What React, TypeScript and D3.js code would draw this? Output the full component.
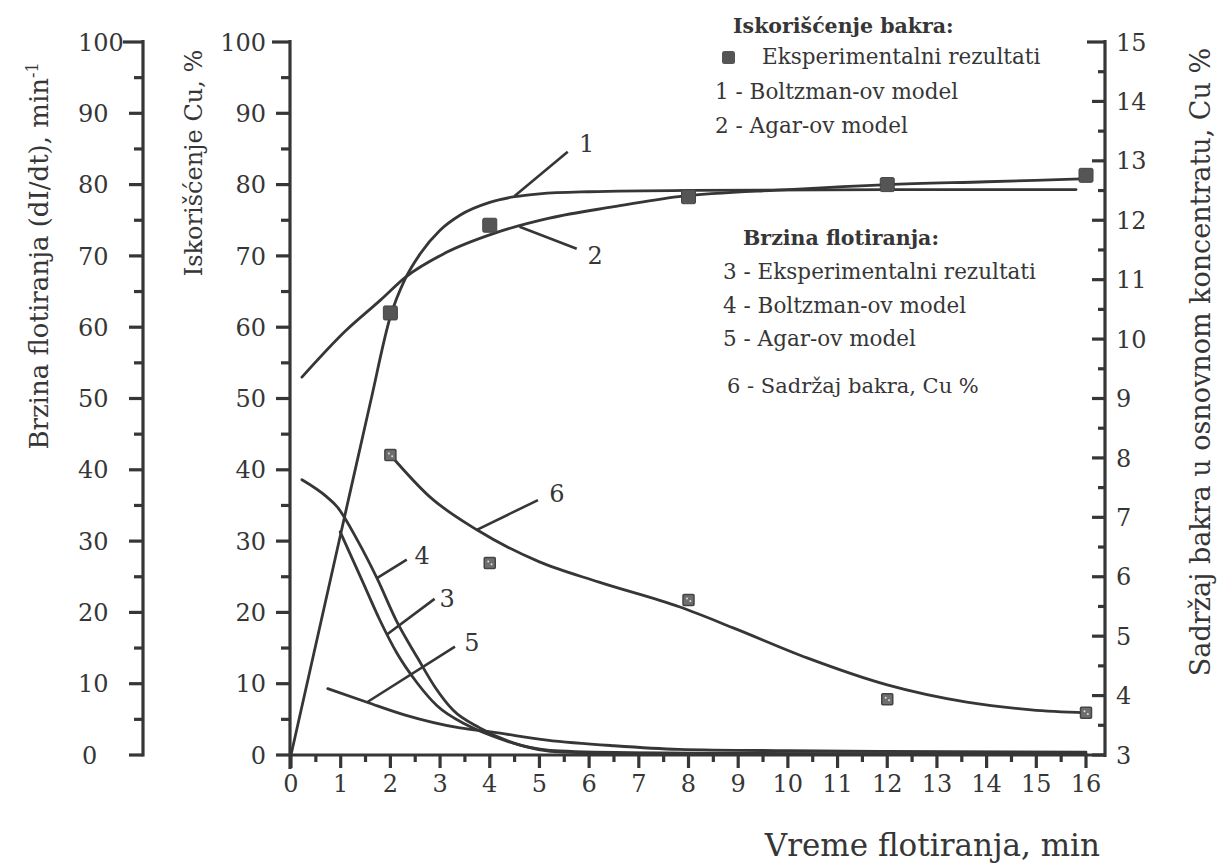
import React from 'react';
import * as d3 from 'd3';

// ---- data ----
const timeTicks = d3.range(0, 17);
const timeMinor = d3.range(0.5, 16, 1);
const leftTicks = [0, 10, 20, 30, 40, 50, 60, 70, 80, 90, 100];
const leftMinor = [5, 15, 25, 35, 45, 55, 65, 75, 85, 95];
const rightTicks = [3, 4, 5, 6, 7, 8, 9, 10, 11, 12, 13, 14, 15];
const rightMinor = [3.5, 4.5, 5.5, 6.5, 7.5, 8.5, 9.5, 10.5, 11.5, 12.5, 13.5, 14.5];

// Iskorišćenje bakra (left scale, %)
const recoveryExpT = [2, 4, 8, 12, 16];
const recoveryExpV = [62, 74.3, 78.3, 80, 81.3];
// 1 - Boltzman-ov model
const boltzmannRecT = [0, 1, 1.6, 2, 2.3, 2.6, 3, 3.4, 4, 4.5, 5, 6, 8, 12, 15.8];
const boltzmannRecV = [0, 31, 49.5, 61.5, 66.8, 70.3, 73.6, 75.7, 77.5, 78.3, 78.7, 79.0, 79.2, 79.3, 79.3];
// 2 - Agar-ov model
const agarRecT = [0.22, 1.1, 1.8, 2.3, 3.1, 4.1, 5.2, 6.5, 7.8, 10, 12, 14, 15.9];
const agarRecV = [53, 59.5, 63.8, 67, 70.4, 73.2, 75.3, 76.9, 78.3, 79.3, 80, 80.4, 80.8];

// Brzina flotiranja (left-most scale)
// 3 - Eksperimentalni rezultati
const rateExpT = [0.99, 1.43, 1.79, 2.13, 2.54, 2.94, 3.54, 4.0, 4.61, 5.41, 7, 10, 16];
const rateExpV = [31.3, 24.5, 18.9, 14.3, 10.1, 6.9, 4.2, 2.8, 1.4, 0.56, 0.3, 0.2, 0.15];
// 4 - Boltzman-ov model
const boltzmannRateT = [0.22, 0.72, 0.93, 1.33, 1.73, 2.13, 2.54, 2.9, 3.26, 3.8, 4.47, 5.47, 7, 10, 16];
const boltzmannRateV = [38.6, 36.2, 34.8, 30.2, 24.8, 18.7, 13.7, 9.5, 6.3, 3.8, 1.7, 0.4, 0.25, 0.2, 0.15];
// 5 - Agar-ov model
const agarRateT = [0.74, 1.53, 2.3, 3.4, 4.06, 5.15, 6.5, 7.8, 10, 12, 16];
const agarRateV = [9.3, 7.4, 5.6, 3.8, 3.2, 2.1, 1.3, 0.8, 0.6, 0.5, 0.4];

// 6 - Sadržaj bakra, Cu % (right scale)
const copperT = [2, 2.8, 3.74, 5, 6.2, 7.83, 8.9, 10.4, 12, 13.6, 14.9, 16];
const copperV = [8.05, 7.34, 6.79, 6.25, 5.91, 5.49, 5.14, 4.63, 4.18, 3.89, 3.76, 3.71];
const copperExpT = [2, 4, 8, 12, 16];
const copperExpV = [8.05, 6.23, 5.61, 3.94, 3.71];

// curve number annotations (leader lines)
const annLabels = ['1', '2', '3', '4', '5', '6'];
const annScale = ['L', 'L', 'L', 'L', 'L', 'R'];
const annFrom = [[4.5, 78.4], [4.6, 74.1], [1.93, 16.9], [1.73, 24.8], [1.53, 7.4], [3.74, 6.79]];
const annTo = [[5.57, 84.6], [5.75, 71.0], [2.89, 21.9], [2.33, 27.4], [3.3, 15.2], [4.97, 7.29]];
const annText = [[5.95, 85.8], [6.12, 70.1], [3.14, 22.0], [2.64, 28.0], [3.64, 15.8], [5.35, 7.41]];

const FONT = "'DejaVu Serif', 'Liberation Serif', serif";
const INK = '#363636';

export default function App() {
  const x = d3.scaleLinear().domain([0, 16]).range([291, 1086]);
  const yL = d3.scaleLinear().domain([0, 100]).range([755, 42]);
  const yR = d3.scaleLinear().domain([3, 15]).range([755, 42]);

  const lineL = d3.line<[number, number]>().x(d => x(d[0])).y(d => yL(d[1])).curve(d3.curveMonotoneX);
  const lineR = d3.line<[number, number]>().x(d => x(d[0])).y(d => yR(d[1])).curve(d3.curveMonotoneX);
  const zip = (a: number[], b: number[]) => a.map((t, i) => [t, b[i]] as [number, number]);

  const axisLeftX = 143;
  const axisMidX = 290;
  const axisRightX = 1105;
  const xAxisY = 755;

  const curvesL = [
    zip(boltzmannRecT, boltzmannRecV),
    zip(agarRecT, agarRecV),
    zip(rateExpT, rateExpV),
    zip(boltzmannRateT, boltzmannRateV),
    zip(agarRateT, agarRateV),
  ];

  return (
    <svg width={1224} height={866} style={{ position: 'absolute', left: 0, top: 0, background: '#fff' }}
      fontFamily={FONT}>
      <rect x={0} y={0} width={1224} height={866} fill="#fff" />
      {/* left-most axis (Brzina flotiranja) */}
      <g stroke={INK} strokeWidth={3.2} fill="none">
        <line x1={axisLeftX} x2={axisLeftX} y1={yL(100) - 2} y2={yL(0) + 1.5} />
        {leftTicks.map(v => (
          <line key={'lt' + v} x1={v === 100 ? axisLeftX - 20 : axisLeftX - 14} x2={axisLeftX} y1={yL(v)} y2={yL(v)} />
        ))}
        {leftMinor.map(v => (
          <line key={'lm' + v} x1={axisLeftX - 9} x2={axisLeftX} y1={yL(v)} y2={yL(v)} />
        ))}
      </g>
      <g fill={INK} fontSize={24}>
        {leftTicks.map(v => (
          <text key={'ll' + v} x={v === 0 ? 82 : 78} y={yL(v)} dy="0.36em">{v}</text>
        ))}
      </g>
      <text transform={`translate(48,256) rotate(-90)`} textAnchor="middle" fontSize={26} fill={INK}>
        Brzina flotiranja (dI/dt), min<tspan dy={-10} fontSize={16}>-1</tspan>
      </text>

      {/* main left axis (Iskorišćenje) */}
      <g stroke={INK} strokeWidth={3.2} fill="none">
        <line x1={axisMidX} x2={axisMidX} y1={yL(100) - 2} y2={xAxisY + 14} />
        {leftTicks.map(v => (
          <line key={'mt' + v} x1={v === 100 ? axisMidX - 18 : axisMidX - 14} x2={axisMidX} y1={yL(v)} y2={yL(v)} />
        ))}
        {leftMinor.map(v => (
          <line key={'mm' + v} x1={axisMidX - 9} x2={axisMidX} y1={yL(v)} y2={yL(v)} />
        ))}
      </g>
      <g fill={INK} fontSize={24} textAnchor="end">
        {leftTicks.map(v => (
          <text key={'ml' + v} x={266} y={yL(v)} dy="0.36em">{v}</text>
        ))}
      </g>
      <text transform={`translate(202,163) rotate(-90)`} textAnchor="middle" fontSize={24} fill={INK}>
        Iskorišćenje Cu, %
      </text>

      {/* right axis */}
      <g stroke={INK} strokeWidth={3.2} fill="none">
        <line x1={axisRightX} x2={axisRightX} y1={yR(15) - 2} y2={xAxisY + 2} />
        {rightTicks.map(v => (
          <line key={'rt' + v} x1={v === 15 ? axisRightX - 18 : axisRightX - 13} x2={axisRightX} y1={yR(v)} y2={yR(v)} />
        ))}
        {rightMinor.map(v => (
          <line key={'rm' + v} x1={axisRightX - 7} x2={axisRightX} y1={yR(v)} y2={yR(v)} />
        ))}
      </g>
      <g fill={INK} fontSize={24}>
        {rightTicks.map(v => (
          <text key={'rl' + v} x={1116} y={yR(v)} dy="0.36em">{v}</text>
        ))}
      </g>
      <text transform={`translate(1210,362) rotate(-90)`} textAnchor="middle" fontSize={27} fill={INK}>
        Sadržaj bakra u osnovnom koncentratu, Cu %
      </text>

      {/* x axis */}
      <g stroke={INK} strokeWidth={3.2} fill="none">
        <line x1={axisMidX} x2={axisRightX} y1={xAxisY} y2={xAxisY} />
        {timeTicks.map(t => (
          <line key={'xt' + t} x1={x(t)} x2={x(t)} y1={xAxisY} y2={xAxisY + 13} />
        ))}
        {timeMinor.map(t => (
          <line key={'xm' + t} x1={x(t)} x2={x(t)} y1={xAxisY} y2={xAxisY + 7} />
        ))}
      </g>
      <g fill={INK} fontSize={24} textAnchor="middle">
        {timeTicks.map(t => (
          <text key={'xl' + t} x={x(t)} y={792}>{t}</text>
        ))}
      </g>
      <text x={1100} y={856} textAnchor="end" fontSize={31} fill={INK}>Vreme flotiranja, min</text>

      {/* curves */}
      <g stroke={INK} strokeWidth={2.8} fill="none" strokeLinecap="round">
        {curvesL.map((c, i) => <path key={'c' + i} d={lineL(c) || ''} />)}
        <path d={lineR(zip(copperT, copperV)) || ''} />
      </g>

      {/* annotations */}
      <g stroke={INK} strokeWidth={2.6}>
        {annLabels.map((l, i) => {
          const y = annScale[i] === 'L' ? yL : yR;
          return <line key={'al' + i} x1={x(annFrom[i][0])} y1={y(annFrom[i][1])} x2={x(annTo[i][0])} y2={y(annTo[i][1])} />;
        })}
      </g>
      <g fill={INK} fontSize={24} textAnchor="middle">
        {annLabels.map((l, i) => {
          const y = annScale[i] === 'L' ? yL : yR;
          return <text key={'at' + i} x={x(annText[i][0])} y={y(annText[i][1])} dy="0.36em">{l}</text>;
        })}
      </g>

      {/* markers */}
      <g fill="#555" stroke="#444" strokeWidth={1}>
        {recoveryExpT.map((t, i) => (
          <rect key={'rm' + i} x={x(t) - 7} y={yL(recoveryExpV[i]) - 7} width={14} height={14} rx={1.5} />
        ))}
      </g>
      <g>
        {copperExpT.map((t, i) => (
          <g key={'cm' + i} transform={`translate(${x(t)},${yR(copperExpV[i])})`}>
            <rect x={-5.5} y={-5.5} width={11} height={11} fill="#6e6e6e" stroke="#444" strokeWidth={1.5} rx={1} />
            <circle cx={-1.5} cy={-1.5} r={1} fill="#ddd" />
            <circle cx={1.8} cy={1.2} r={1} fill="#ddd" />
          </g>
        ))}
      </g>

      {/* legend */}
      <g fill={INK}>
        <text x={733} y={33} fontSize={20.5} fontWeight="bold">Iskorišćenje bakra:</text>
        <rect x={722} y={51} width={13} height={13} rx={2.5} fill="#555" />
        <text x={762} y={64} fontSize={21.5}>Eksperimentalni rezultati</text>
        <text x={715} y={99} fontSize={21.5}>1 - Boltzman-ov model</text>
        <text x={715} y={133} fontSize={21.5}>2 - Agar-ov model</text>
        <text x={743} y={245} fontSize={20.5} fontWeight="bold">Brzina flotiranja:</text>
        <text x={723} y={279} fontSize={21.5}>3 - Eksperimentalni rezultati</text>
        <text x={723} y={313} fontSize={21.5}>4 - Boltzman-ov model</text>
        <text x={723} y={346} fontSize={21.5}>5 - Agar-ov model</text>
        <text x={727} y={393} fontSize={21}>6 - Sadržaj bakra, Cu %</text>
      </g>
    </svg>
  );
}
